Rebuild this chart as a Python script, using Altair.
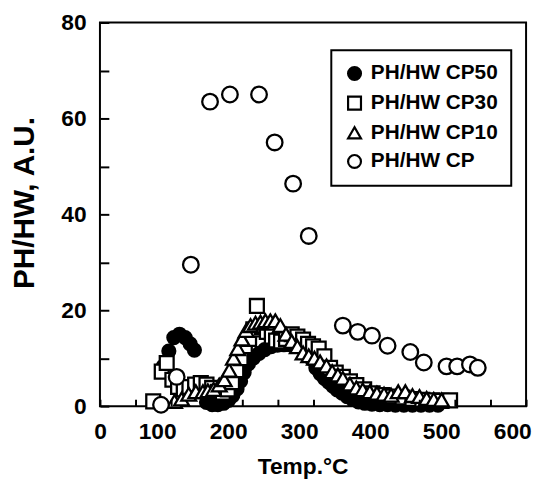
import altair as alt
import pandas as pd

series_names = ["PH/HW CP50", "PH/HW CP30", "PH/HW CP10", "PH/HW CP"]

# PH/HW CP50 (filled circles)
x50 = [89, 97, 104, 112, 120, 127, 133, 150, 158, 166, 174, 181, 187, 193, 198, 203,
       209, 216, 224, 232, 241, 250, 259, 268, 277, 285, 292, 298, 304, 310, 316, 322,
       328, 334, 341, 348, 356, 364, 373, 383, 394, 405, 416, 428, 440, 452, 464, 476]
y50 = [8.3, 11.5, 14.3, 15.0, 14.3, 13.0, 11.7, 0.8, 0.3, 0.3, 0.6, 1.2, 2.2, 3.6, 5.2, 7.0,
       8.8, 10.0, 11.0, 11.8, 12.4, 12.7, 12.8, 12.8, 12.6, 12.2, 11.5, 9.8, 8.0, 6.8, 5.8, 5.0,
       4.2, 3.4, 2.7, 2.0, 1.4, 0.9, 0.6, 0.4, 0.3, 0.3, 0.2, 0.2, 0.2, 0.2, 0.2, 0.2]

# PH/HW CP30 (open squares)
x30 = [75, 87, 94, 102, 110, 118, 126, 134, 142, 150, 158, 166, 173, 180, 186, 192, 198,
       204, 210, 216, 221, 228, 235, 242, 248, 255, 262, 270, 278, 286, 293, 300, 308, 316,
       324, 332, 342, 352, 361, 372, 384, 398, 412, 426, 440, 454, 468, 481, 493]
y30 = [1.0, 7.2, 9.0, 5.5, 4.0, 3.5, 4.0, 4.5, 4.8, 4.5, 3.8, 3.0, 2.8, 3.5, 5.0, 7.5, 10.0,
       12.5, 14.0, 16.0, 20.9, 16.5, 15.5, 14.5, 13.7, 13.5, 14.0, 15.0, 14.5, 13.9, 13.0, 12.5,
       12.0, 10.4, 8.0, 7.0, 6.1, 5.2, 4.4, 3.5, 2.7, 2.3, 2.0, 1.8, 1.5, 1.3, 1.2, 1.1, 1.2]

# PH/HW CP10 (open triangles)
x10 = [105, 115, 125, 135, 145, 152, 160, 168, 175, 182, 188, 194, 200, 206, 212, 219,
       226, 233, 240, 247, 254, 262, 270, 278, 286, 294, 302, 310, 319, 327, 335, 342,
       352, 361, 370, 380, 390, 400, 410, 420, 430, 440, 450, 460, 470, 481]
y10 = [1.0, 1.5, 2.5, 3.0, 3.0, 3.2, 3.5, 4.4, 5.5, 7.5, 10.0, 12.0, 14.0, 15.8, 16.8, 17.3,
       17.5, 17.8, 17.8, 17.8, 16.8, 15.0, 13.5, 12.4, 11.1, 10.5, 10.0, 9.2, 8.4, 7.2, 6.5, 5.8,
       4.6, 3.8, 3.4, 3.0, 2.7, 2.5, 2.3, 3.0, 3.0, 2.2, 2.0, 1.6, 1.4, 1.3]

# PH/HW CP (open circles)
xcp = [86, 108, 128, 155, 183, 224, 246, 272, 294, 342, 363, 383, 405, 437, 456, 488, 503, 521, 532]
ycp = [0.3, 6.1, 29.5, 63.5, 65.0, 65.0, 55.0, 46.4, 35.5, 16.8, 15.5, 14.7, 12.6, 11.3, 9.1,
       8.3, 8.3, 8.7, 8.0]

x_ticks = [0, 50, 100, 150, 200, 250, 300, 350, 400, 450, 500, 550, 600]
y_ticks = [0, 10, 20, 30, 40, 50, 60, 70, 80]

frames = []
for name, xs, ys in [(series_names[0], x50, y50), (series_names[1], x30, y30),
                     (series_names[2], x10, y10), (series_names[3], xcp, ycp)]:
    frames.append(pd.DataFrame({"temp": xs, "value": ys, "series": name}))
df = pd.concat(frames, ignore_index=True)

W, H = 431, 388
FONT = "Liberation Sans"
XT = "Temp.°C"
YT = "PH/HW, A.U."
XTICK = 7   # inward tick length on the temperature axis
YTICK = 9   # inward tick length on the PH/HW axis

xscale = alt.Scale(domain=[0, 600], nice=False, zero=False)
yscale = alt.Scale(domain=[0, 80], nice=False)

# axes are pulled inside the frame by their tick length, so ticks point inward
x_axis = alt.Axis(orient="bottom", offset=-XTICK, values=x_ticks, zindex=1,
                  labelExpr="datum.value % 100 == 0 ? datum.label : ''",
                  ticks=True, tickSize=XTICK, tickWidth=2, tickColor="black", tickOpacity=1,
                  grid=False, domain=False,
                  labelFont=FONT, labelFontSize=23, labelFontWeight="bold",
                  labelColor="black", labelPadding=15, labelFlush=False,
                  labelOffset={"condition": {"test": "datum.value == 0", "value": 0}, "value": -14},
                  titleFont=FONT, titleFontSize=23, titleFontWeight="bold",
                  titleColor="black", titleX=205, titleY=50 + XTICK)
y_axis = alt.Axis(orient="left", offset=-YTICK, values=y_ticks, zindex=1,
                  labelExpr="datum.value % 20 == 0 ? datum.label : ''",
                  ticks=True, tickSize=YTICK, tickWidth=2, tickColor="black", tickOpacity=1,
                  grid=False, domain=False,
                  labelFont=FONT, labelFontSize=23, labelFontWeight="bold",
                  labelColor="black", labelPadding=14, labelFlush=False,
                  titleFont=FONT, titleFontSize=30, titleFontWeight="bold",
                  titleColor="black", titleX=-61 - YTICK, titleY=182)

legend = alt.Legend(
    title=None, orient="none", legendX=234, legendY=28, padding=13, rowPadding=7,
    labelFont=FONT, labelFontSize=21, labelFontWeight="bold", labelColor="black",
    labelOffset=6, symbolSize=170, symbolStrokeWidth=2.2,
    strokeColor="black", fillColor="white",
)

# size scale uses the reversed order so that it is not merged into the legend
size_domain = series_names[::-1]
size_range = [250, 170, 150, 380]

chart = alt.Chart(df).mark_point(filled=True, strokeWidth=2.3, opacity=1).encode(
    x=alt.X("temp:Q", scale=xscale, title=XT, axis=x_axis),
    y=alt.Y("value:Q", scale=yscale, title=YT, axis=y_axis),
    shape=alt.Shape("series:N", scale=alt.Scale(domain=series_names,
                    range=["circle", "square", "triangle-up", "circle"]), legend=legend),
    fill=alt.Fill("series:N", scale=alt.Scale(domain=series_names,
                  range=["black", "white", "white", "white"]), legend=legend),
    stroke=alt.Stroke("series:N", scale=alt.Scale(domain=series_names,
                      range=["black", "black", "black", "black"]), legend=legend),
    size=alt.Size("series:N", scale=alt.Scale(domain=size_domain, range=size_range),
                  legend=None),
).properties(
    width=W, height=H,
    autosize=alt.AutoSizeParams(type="none"),
    padding={"left": 93, "top": 12, "right": 6, "bottom": 74},
).configure_view(stroke="black", strokeWidth=2).configure_legend(strokeWidth=2)

chart.save("out.html", embed_options={"renderer": "svg", "actions": False})
